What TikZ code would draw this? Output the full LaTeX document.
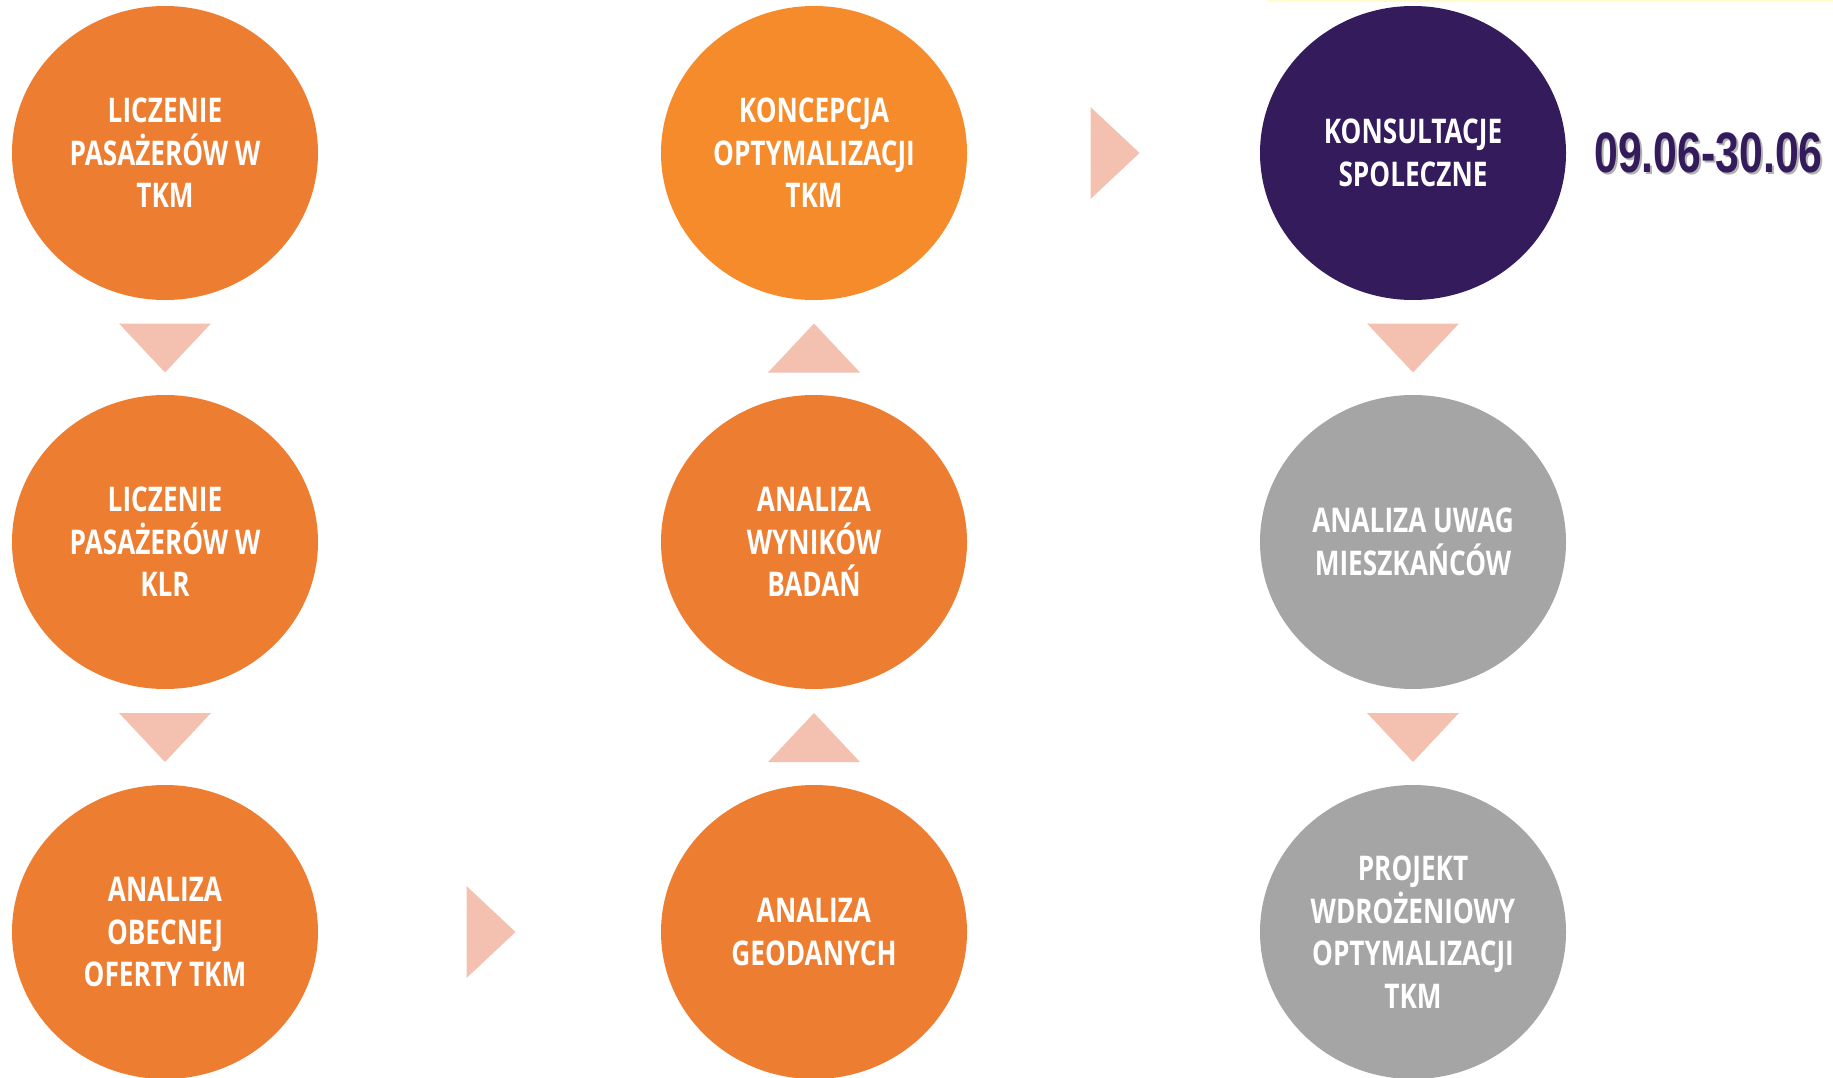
\documentclass[tikz,border=0pt]{standalone}
\usepackage{fontspec}
\usetikzlibrary{positioning,
        shapes.geometric,
        calc}
\newfontfamily\circfont[FakeStretch=0.77]{Open Sans}
\newfontfamily\datefont[FakeStretch=0.75]{Liberation Sans}
\definecolor{pomar}{HTML}{ED7D31}
\definecolor{pomarjasny}{HTML}{F58B2B}
\definecolor{fiolet}{HTML}{331B5C}
\definecolor{szary}{HTML}{A5A5A5}
\definecolor{trojkat}{HTML}{F4C0B0}
\tikzset{
    krok/.style={ellipse, inner sep=0pt, minimum width=306pt, minimum height=294pt,
        align=center, text=white, font=\circfont\bfseries\fontsize{34}{42.5}\selectfont},
    tri/.style={fill=trojkat}
}
\newcommand{\triDol}[2]{\fill[tri] ($(#1.south)!0.5!(#2.north)$) ++(-46,-24) -- ++(92,0) -- ++(-46,49) -- cycle;}
\newcommand{\triGora}[2]{\fill[tri] ($(#1.north)!0.5!(#2.south)$) ++(-46,25) -- ++(92,0) -- ++(-46,-49) -- cycle;}
\newcommand{\triPrawo}[2]{\fill[tri] ($(#1.east)!0.5!(#2.west)$) ++(-23,-46) -- ++(0,92) -- ++(49,-46) -- cycle;}

\begin{document}
\begin{tikzpicture}[x=1pt, y=-1pt]
            \useasboundingbox (0,0) rectangle (1833,1078);
            \draw [yellow!20, line width=1.5pt] (1268,1) -- (1833,1);

            \node [krok, fill=pomar] (lkTKM) at (165,153) {LICZENIE\\PASAŻERÓW W\\TKM};
            \node [krok, fill=pomar] (lkKLR) at (165,542) {LICZENIE\\PASAŻERÓW W\\KLR};
            \node [krok, fill=pomar] (obecna) at (165,932) {ANALIZA\\OBECNEJ\\OFERTY TKM};
            \node [krok, fill=pomar] (geo) at (814,932) {ANALIZA\\GEODANYCH};
            \node [krok, fill=pomar] (wyniki) at (814,542) {ANALIZA\\WYNIKÓW\\BADAŃ};
            \node [krok, fill=pomarjasny] (koncepcja) at (814,153) {KONCEPCJA\\OPTYMALIZACJI\\TKM};
            \node [krok, fill=fiolet] (konsult) at (1413,153) {KONSULTACJE\\SPOLECZNE};
            \node [krok, fill=szary] (uwagi) at (1413,542) {ANALIZA UWAG\\MIESZKAŃCÓW};
            \node [krok, fill=szary] (projekt) at (1413,932) {PROJEKT\\WDROŻENIOWY\\OPTYMALIZACJI\\TKM};

            \node [inner sep=0pt, text=black!30, font=\datefont\bfseries\fontsize{57}{60}\selectfont,
                right=28pt of konsult, xshift=2pt, yshift=-2pt] (cień) {09.06-30.06};
            \node [inner sep=0pt, text=fiolet, font=\datefont\bfseries\fontsize{57}{60}\selectfont,
                right=28pt of konsult] (termin) {09.06-30.06};

            \triDol{lkTKM}{lkKLR}
            \triDol{lkKLR}{obecna}
            \triPrawo{obecna}{geo}
            \triGora{geo}{wyniki}
            \triGora{wyniki}{koncepcja}
            \triPrawo{koncepcja}{konsult}
            \triDol{konsult}{uwagi}
            \triDol{uwagi}{projekt}
        \end{tikzpicture}
\end{document}
